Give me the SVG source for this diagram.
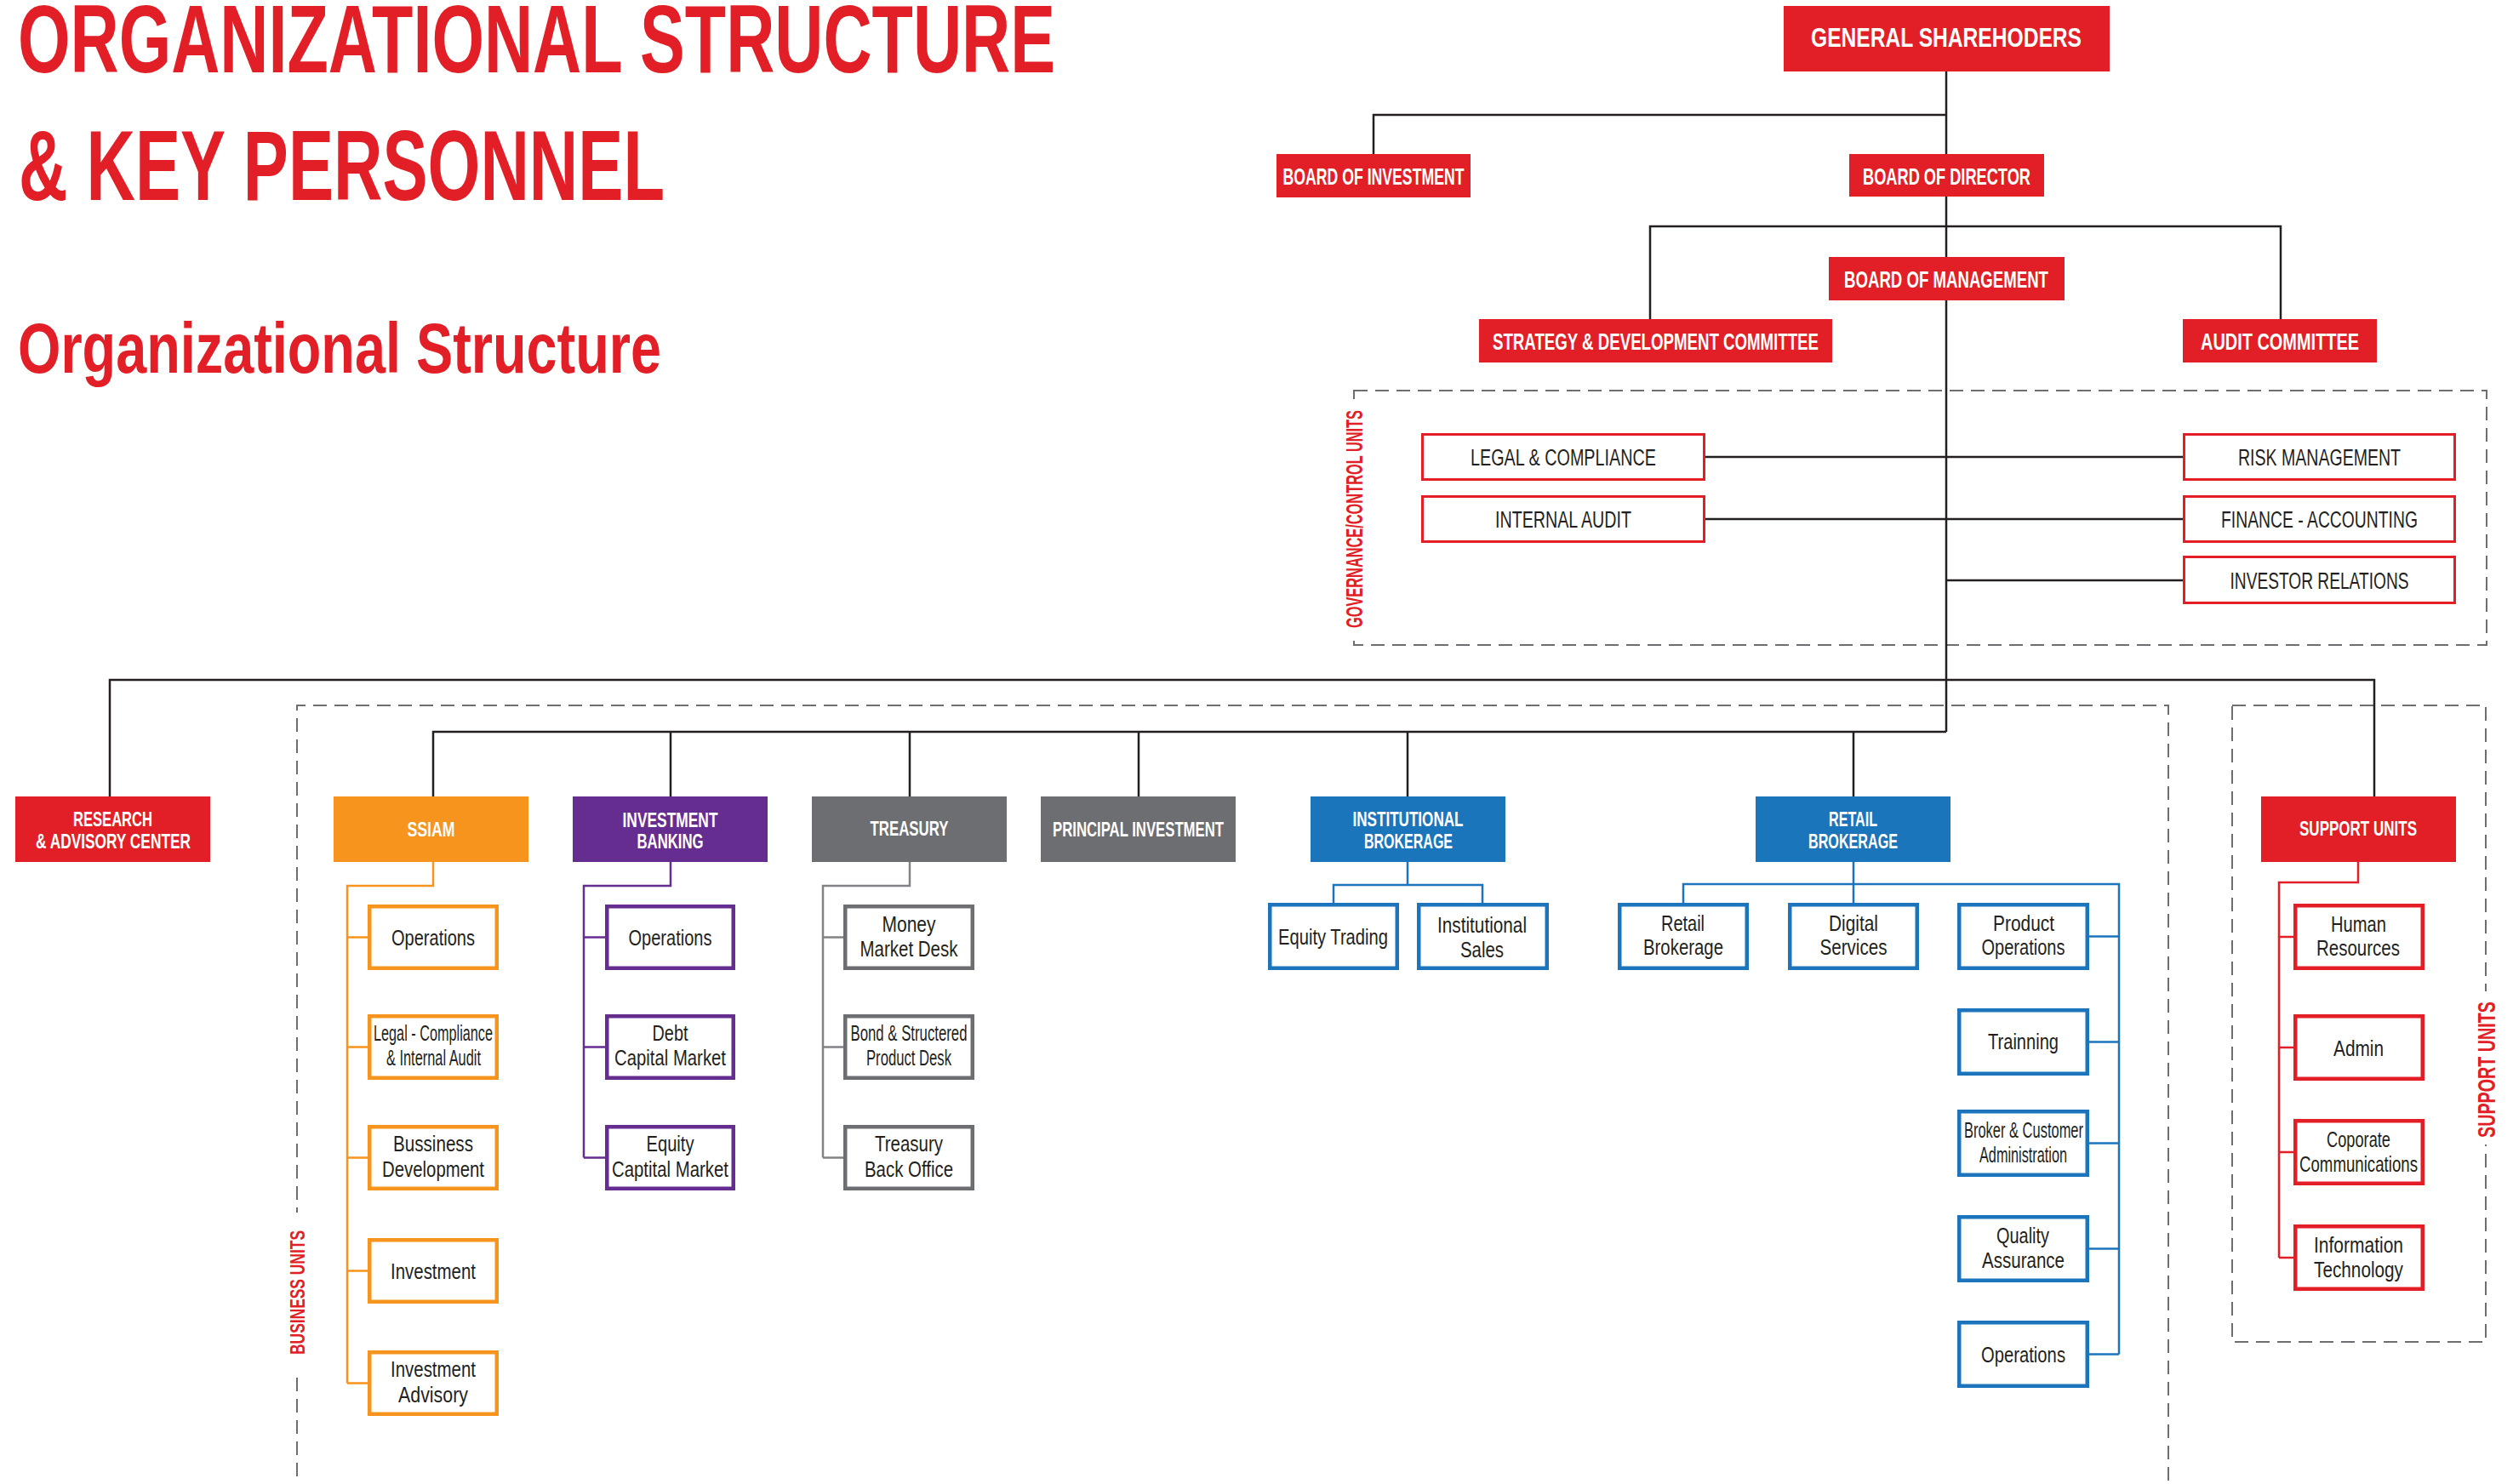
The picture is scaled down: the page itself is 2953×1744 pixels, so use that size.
<svg xmlns="http://www.w3.org/2000/svg" width="2953" height="1744" viewBox="0 0 2953 1744">
<style>
text{font-family:"Liberation Sans",Arial,sans-serif}
.title{fill:#e21f26;font-weight:bold}
.h{fill:#fff;font-weight:bold;text-anchor:middle}
.g{fill:#231f20;text-anchor:middle;font-size:27px}
.s{fill:#231f20;text-anchor:middle;font-size:26px}
.lbl{fill:#e21f26;font-weight:bold;text-anchor:middle}
.conn{fill:none;stroke:#231f20;stroke-width:2.5}
.dash{fill:none;stroke:#6d6e71;stroke-width:2;stroke-dasharray:16 9}
.red{fill:#e21f26}.org{fill:#f7941d}.pur{fill:#662d91}.gry{fill:#6d6e71}.blu{fill:#1b75bb}
.bo{fill:#fff;stroke:#f7941d;stroke-width:4.5}
.bp{fill:#fff;stroke:#662d91;stroke-width:4.5}
.bg{fill:#fff;stroke:#6d6e71;stroke-width:4.5}
.bb{fill:#fff;stroke:#1c75bc;stroke-width:4.5}
.br{fill:#fff;stroke:#e31e26;stroke-width:4.5}
.bgov{fill:#fff;stroke:#e31e26;stroke-width:3}
.co{fill:none;stroke:#f7941d;stroke-width:2.5}
.cp{fill:none;stroke:#662d91;stroke-width:2.5}
.cg{fill:none;stroke:#808285;stroke-width:2.5}
.cb{fill:none;stroke:#1c75bc;stroke-width:2.5}
.cr{fill:none;stroke:#e31e26;stroke-width:2.5}
</style>
<rect width="2953" height="1744" fill="#fff"/>

<!-- titles -->
<text class="title" x="21" y="85" font-size="114" textLength="1219" lengthAdjust="spacingAndGlyphs">ORGANIZATIONAL STRUCTURE</text>
<text class="title" x="22" y="235" font-size="116" textLength="759" lengthAdjust="spacingAndGlyphs">&amp; KEY PERSONNEL</text>
<text class="title" x="21" y="438" font-size="84" textLength="756" lengthAdjust="spacingAndGlyphs">Organizational Structure</text>

<!-- dashed regions -->
<g id="regions">
<rect class="dash" x="1591" y="459" width="1331" height="299"/>
<path class="dash" d="M349,1760 V829 H2548 V1760"/>
<rect class="dash" x="2623" y="829" width="298" height="748"/>
<rect x="1578" y="474" width="26" height="276" fill="#fff"/>
<rect x="337" y="1425" width="25" height="187" fill="#fff"/>
<rect x="2908" y="1165" width="27" height="180" fill="#fff"/>
<text class="lbl" font-size="28" transform="translate(1591,610) rotate(-90)" x="0" y="10" textLength="256" lengthAdjust="spacingAndGlyphs">GOVERNANCE/CONTROL UNITS</text>
<text class="lbl" font-size="24" transform="translate(349.5,1519) rotate(-90)" x="0" y="8.5" textLength="146" lengthAdjust="spacingAndGlyphs">BUSINESS UNITS</text>
<text class="lbl" font-size="29" transform="translate(2921.5,1257) rotate(-90)" x="0" y="10.5" textLength="160" lengthAdjust="spacingAndGlyphs">SUPPORT UNITS</text>
</g>

<!-- connectors -->
<g id="connectors">
<path class="conn" d="M2287,84 V181 M1614,181 V135 H2287 M2287,231 V302 M1939,375 V266 H2680 V375 M2287,353 V860"/>
<path class="conn" d="M2004,537 H2565 M2004,610 H2565 M2287,682 H2565"/>
<path class="conn" d="M129,936 V799 H2790 V936"/>
<path class="conn" d="M509,936 V860 H2287 M788,860 V936 M1069,860 V936 M1338,860 V936 M1654,860 V936 M2178,860 V936"/>
<path class="co" d="M509,1013 V1041 H408 V1625.5 M408,1101.5 H432 M408,1230.5 H432 M408,1360.5 H432 M408,1493.5 H432 M408,1625.5 H432"/>
<path class="cp" d="M788,1013 V1041 H686 V1360.5 M686,1101.5 H711 M686,1230.5 H711 M686,1360.5 H711"/>
<path class="cg" d="M1069,1013 V1041 H967 V1360.5 M967,1101.5 H991 M967,1230.5 H991 M967,1360.5 H991"/>
<path class="cb" d="M1654,1013 V1040 M1567,1061 V1040 H1742 V1061"/>
<path class="cb" d="M2178,1013 V1061 M1978,1061 V1039 H2490 V1591.5 M2455,1100.5 H2490 M2455,1224.5 H2490 M2455,1343.5 H2490 M2455,1467.5 H2490 M2455,1591.5 H2490"/>
<path class="cr" d="M2771,1013 V1037 H2678 V1478 M2678,1101 H2695 M2678,1231 H2695 M2678,1354 H2695 M2678,1478 H2695"/>
</g>

<!-- top level -->
<g id="general-shareholders"><rect class="red" x="2096" y="7" width="383" height="77"/><text class="h" x="2287" y="55" font-size="32" textLength="318" lengthAdjust="spacingAndGlyphs">GENERAL SHAREHODERS</text></g>
<g id="board-investment"><rect class="red" x="1500" y="181" width="228" height="51"/><text class="h" x="1614" y="217" font-size="28" textLength="213" lengthAdjust="spacingAndGlyphs">BOARD OF INVESTMENT</text></g>
<g id="board-director"><rect class="red" x="2173" y="181" width="229" height="50"/><text class="h" x="2287.5" y="217" font-size="28" textLength="197" lengthAdjust="spacingAndGlyphs">BOARD OF DIRECTOR</text></g>
<g id="board-management"><rect class="red" x="2149" y="302" width="277" height="51"/><text class="h" x="2287" y="338" font-size="28" textLength="240" lengthAdjust="spacingAndGlyphs">BOARD OF MANAGEMENT</text></g>
<g id="strategy"><rect class="red" x="1738" y="375" width="415" height="51"/><text class="h" x="1945.5" y="410.5" font-size="28" textLength="383" lengthAdjust="spacingAndGlyphs">STRATEGY &amp; DEVELOPMENT COMMITTEE</text></g>
<g id="audit-committee"><rect class="red" x="2565" y="375" width="228" height="51"/><text class="h" x="2679" y="410.5" font-size="28" textLength="186" lengthAdjust="spacingAndGlyphs">AUDIT COMMITTEE</text></g>

<!-- governance -->
<g id="legal-compliance"><rect class="bgov" x="1671.5" y="510.5" width="331" height="53"/><text class="g" x="1837" y="547" textLength="218" lengthAdjust="spacingAndGlyphs">LEGAL &amp; COMPLIANCE</text></g>
<g id="internal-audit"><rect class="bgov" x="1671.5" y="583.5" width="331" height="53"/><text class="g" x="1837" y="620" textLength="160" lengthAdjust="spacingAndGlyphs">INTERNAL AUDIT</text></g>
<g id="risk-management"><rect class="bgov" x="2566.5" y="510.5" width="318" height="53"/><text class="g" x="2725.5" y="547" textLength="191" lengthAdjust="spacingAndGlyphs">RISK MANAGEMENT</text></g>
<g id="finance-accounting"><rect class="bgov" x="2566.5" y="583.5" width="318" height="53"/><text class="g" x="2725.5" y="620" textLength="231" lengthAdjust="spacingAndGlyphs">FINANCE - ACCOUNTING</text></g>
<g id="investor-relations"><rect class="bgov" x="2566.5" y="654.5" width="318" height="54"/><text class="g" x="2725.5" y="691.5" textLength="210" lengthAdjust="spacingAndGlyphs">INVESTOR RELATIONS</text></g>

<!-- level 2 -->
<g id="research"><rect class="red" x="18" y="936" width="229" height="77"/><text class="h" x="132.5" y="971" font-size="24" textLength="93" lengthAdjust="spacingAndGlyphs">RESEARCH</text><text class="h" x="133" y="997" font-size="24" textLength="182" lengthAdjust="spacingAndGlyphs">&amp; ADVISORY CENTER</text></g>
<g id="ssiam"><rect class="org" x="392" y="936" width="229" height="77"/><text class="h" x="506.5" y="983" font-size="24" textLength="56" lengthAdjust="spacingAndGlyphs">SSIAM</text></g>
<g id="investment-banking"><rect class="pur" x="673" y="936" width="229" height="77"/><text class="h" x="787.5" y="972" font-size="24" textLength="112" lengthAdjust="spacingAndGlyphs">INVESTMENT</text><text class="h" x="787.5" y="997" font-size="24" textLength="78" lengthAdjust="spacingAndGlyphs">BANKING</text></g>
<g id="treasury"><rect class="gry" x="954" y="936" width="229" height="77"/><text class="h" x="1068.5" y="982" font-size="24" textLength="92" lengthAdjust="spacingAndGlyphs">TREASURY</text></g>
<g id="principal-investment"><rect class="gry" x="1223" y="936" width="229" height="77"/><text class="h" x="1337.5" y="983" font-size="24" textLength="201" lengthAdjust="spacingAndGlyphs">PRINCIPAL INVESTMENT</text></g>
<g id="institutional-brokerage"><rect class="blu" x="1540" y="936" width="229" height="77"/><text class="h" x="1654.5" y="971" font-size="24" textLength="130" lengthAdjust="spacingAndGlyphs">INSTITUTIONAL</text><text class="h" x="1655" y="997" font-size="24" textLength="104" lengthAdjust="spacingAndGlyphs">BROKERAGE</text></g>
<g id="retail-brokerage"><rect class="blu" x="2063" y="936" width="229" height="77"/><text class="h" x="2177.5" y="971" font-size="24" textLength="57" lengthAdjust="spacingAndGlyphs">RETAIL</text><text class="h" x="2177.5" y="997" font-size="24" textLength="105" lengthAdjust="spacingAndGlyphs">BROKERAGE</text></g>
<g id="support-units"><rect class="red" x="2657" y="936" width="229" height="77"/><text class="h" x="2771" y="982" font-size="24" textLength="138" lengthAdjust="spacingAndGlyphs">SUPPORT UNITS</text></g>

<!-- SSIAM subs -->
<g id="ssiam-operations"><rect class="bo" x="434.25" y="1065.25" width="149.5" height="72.5"/><text class="s" x="509" y="1111" textLength="98" lengthAdjust="spacingAndGlyphs">Operations</text></g>
<g id="ssiam-legal"><rect class="bo" x="434.25" y="1194.25" width="149.5" height="72.5"/><text class="s" x="509" y="1223" textLength="140" lengthAdjust="spacingAndGlyphs">Legal - Compliance</text><text class="s" x="509.5" y="1252" textLength="111" lengthAdjust="spacingAndGlyphs">&amp; Internal Audit</text></g>
<g id="ssiam-business-dev"><rect class="bo" x="434.25" y="1324.25" width="149.5" height="72.5"/><text class="s" x="509" y="1353" textLength="94" lengthAdjust="spacingAndGlyphs">Bussiness</text><text class="s" x="509" y="1383" textLength="120" lengthAdjust="spacingAndGlyphs">Development</text></g>
<g id="ssiam-investment"><rect class="bo" x="434.25" y="1457.25" width="149.5" height="72.5"/><text class="s" x="509" y="1503" textLength="100" lengthAdjust="spacingAndGlyphs">Investment</text></g>
<g id="ssiam-investment-advisory"><rect class="bo" x="434.25" y="1589.25" width="149.5" height="72.5"/><text class="s" x="509" y="1618" textLength="100" lengthAdjust="spacingAndGlyphs">Investment</text><text class="s" x="509" y="1648" textLength="82" lengthAdjust="spacingAndGlyphs">Advisory</text></g>

<!-- IB subs -->
<g id="ib-operations"><rect class="bp" x="713.25" y="1065.25" width="148.5" height="72.5"/><text class="s" x="787.5" y="1111" textLength="98" lengthAdjust="spacingAndGlyphs">Operations</text></g>
<g id="ib-debt"><rect class="bp" x="713.25" y="1194.25" width="148.5" height="72.5"/><text class="s" x="787.5" y="1223" textLength="42" lengthAdjust="spacingAndGlyphs">Debt</text><text class="s" x="787.5" y="1252" textLength="131" lengthAdjust="spacingAndGlyphs">Capital Market</text></g>
<g id="ib-equity"><rect class="bp" x="713.25" y="1324.25" width="148.5" height="72.5"/><text class="s" x="787.5" y="1353" textLength="56" lengthAdjust="spacingAndGlyphs">Equity</text><text class="s" x="787.5" y="1383" textLength="137" lengthAdjust="spacingAndGlyphs">Captital Market</text></g>

<!-- Treasury subs -->
<g id="tr-money"><rect class="bg" x="993.25" y="1065.25" width="149.5" height="72.5"/><text class="s" x="1068" y="1095" textLength="63" lengthAdjust="spacingAndGlyphs">Money</text><text class="s" x="1068" y="1124" textLength="115" lengthAdjust="spacingAndGlyphs">Market Desk</text></g>
<g id="tr-bond"><rect class="bg" x="993.25" y="1194.25" width="149.5" height="72.5"/><text class="s" x="1068" y="1223" textLength="137" lengthAdjust="spacingAndGlyphs">Bond &amp; Structered</text><text class="s" x="1068" y="1252" textLength="100" lengthAdjust="spacingAndGlyphs">Product Desk</text></g>
<g id="tr-backoffice"><rect class="bg" x="993.25" y="1324.25" width="149.5" height="72.5"/><text class="s" x="1068" y="1353" textLength="80" lengthAdjust="spacingAndGlyphs">Treasury</text><text class="s" x="1068" y="1383" textLength="104" lengthAdjust="spacingAndGlyphs">Back Office</text></g>

<!-- Institutional subs -->
<g id="inst-equity-trading"><rect class="bb" x="1492.25" y="1063.25" width="149.5" height="74.5"/><text class="s" x="1566.5" y="1110" textLength="129" lengthAdjust="spacingAndGlyphs">Equity Trading</text></g>
<g id="inst-sales"><rect class="bb" x="1667.25" y="1063.25" width="150.5" height="74.5"/><text class="s" x="1741.5" y="1096" textLength="105" lengthAdjust="spacingAndGlyphs">Institutional</text><text class="s" x="1741.5" y="1125" textLength="51" lengthAdjust="spacingAndGlyphs">Sales</text></g>

<!-- Retail subs -->
<g id="rt-retail"><rect class="bb" x="1903.25" y="1063.25" width="149.5" height="74.5"/><text class="s" x="1977.5" y="1094" textLength="51" lengthAdjust="spacingAndGlyphs">Retail</text><text class="s" x="1978" y="1122" textLength="94" lengthAdjust="spacingAndGlyphs">Brokerage</text></g>
<g id="rt-digital"><rect class="bb" x="2103.25" y="1063.25" width="149.5" height="74.5"/><text class="s" x="2178" y="1094" textLength="58" lengthAdjust="spacingAndGlyphs">Digital</text><text class="s" x="2178" y="1122" textLength="79" lengthAdjust="spacingAndGlyphs">Services</text></g>
<g id="rt-product-ops"><rect class="bb" x="2302.25" y="1063.25" width="150.5" height="74.5"/><text class="s" x="2378" y="1094" textLength="72" lengthAdjust="spacingAndGlyphs">Product</text><text class="s" x="2377.5" y="1122" textLength="98" lengthAdjust="spacingAndGlyphs">Operations</text></g>
<g id="rt-training"><rect class="bb" x="2302.25" y="1187.25" width="150.5" height="74.5"/><text class="s" x="2377.5" y="1233" textLength="83" lengthAdjust="spacingAndGlyphs">Trainning</text></g>
<g id="rt-broker-admin"><rect class="bb" x="2302.25" y="1306.25" width="150.5" height="74.5"/><text class="s" x="2378" y="1337" textLength="140" lengthAdjust="spacingAndGlyphs">Broker &amp; Customer</text><text class="s" x="2377.5" y="1366" textLength="103" lengthAdjust="spacingAndGlyphs">Administration</text></g>
<g id="rt-quality"><rect class="bb" x="2302.25" y="1430.25" width="150.5" height="74.5"/><text class="s" x="2377" y="1461" textLength="62" lengthAdjust="spacingAndGlyphs">Quality</text><text class="s" x="2377.5" y="1490" textLength="97" lengthAdjust="spacingAndGlyphs">Assurance</text></g>
<g id="rt-operations"><rect class="bb" x="2302.25" y="1554.25" width="150.5" height="74.5"/><text class="s" x="2377.5" y="1601" textLength="99" lengthAdjust="spacingAndGlyphs">Operations</text></g>

<!-- Support subs -->
<g id="su-hr"><rect class="br" x="2697.25" y="1064.25" width="149.5" height="73.5"/><text class="s" x="2771.5" y="1095" textLength="65" lengthAdjust="spacingAndGlyphs">Human</text><text class="s" x="2771" y="1123" textLength="98" lengthAdjust="spacingAndGlyphs">Resources</text></g>
<g id="su-admin"><rect class="br" x="2697.25" y="1194.25" width="149.5" height="73.5"/><text class="s" x="2771.5" y="1241" textLength="59" lengthAdjust="spacingAndGlyphs">Admin</text></g>
<g id="su-comms"><rect class="br" x="2697.25" y="1317.25" width="149.5" height="73.5"/><text class="s" x="2771.5" y="1348" textLength="75" lengthAdjust="spacingAndGlyphs">Coporate</text><text class="s" x="2771.5" y="1377" textLength="139" lengthAdjust="spacingAndGlyphs">Communications</text></g>
<g id="su-it"><rect class="br" x="2697.25" y="1441.25" width="149.5" height="73.5"/><text class="s" x="2771.5" y="1472" textLength="105" lengthAdjust="spacingAndGlyphs">Information</text><text class="s" x="2771.5" y="1501" textLength="105" lengthAdjust="spacingAndGlyphs">Technology</text></g>
</svg>
